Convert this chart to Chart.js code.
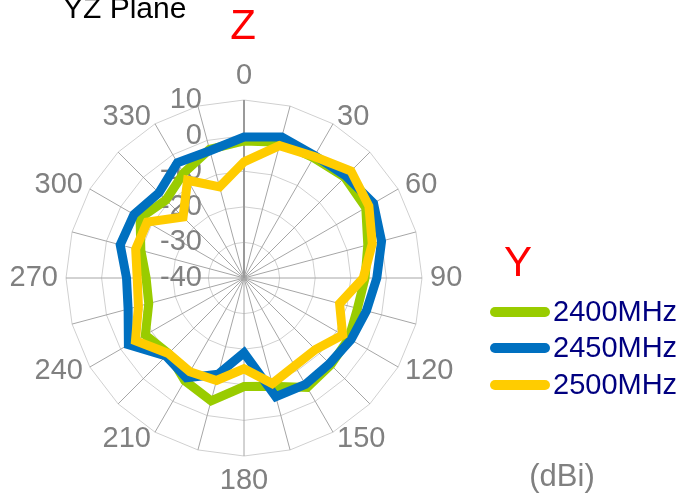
<!DOCTYPE html>
<html>
<head>
<meta charset="utf-8">
<script src="https://cdn.jsdelivr.net/npm/chart.js@4.4.1/dist/chart.umd.min.js"></script>
<style>
html,body{margin:0;padding:0;background:#fff;}
#wrap{position:relative;width:681px;height:495px;overflow:hidden;font-family:"Liberation Sans",Arial,sans-serif;}
#wrap canvas{position:absolute;left:0;top:0;}
.t{position:absolute;white-space:nowrap;line-height:1;}
.sw{position:absolute;left:490px;width:60px;height:10px;border-radius:5px;}
.lg{position:absolute;left:553px;font-size:29px;line-height:1;color:#000080;white-space:nowrap;}
</style>
</head>
<body>
<div id="wrap">
  <canvas id="yz" width="681" height="495"></canvas>
  <div class="t" style="left:63px;top:-7px;font-size:30px;color:#000;">YZ Plane</div>
  <div class="t" style="left:193px;top:4px;width:100px;text-align:center;font-size:42px;color:#ff0000;">Z</div>
  <div class="t" style="left:468px;top:241px;width:100px;text-align:center;font-size:42px;color:#ff0000;">Y</div>
  <div class="t" style="left:512px;top:460px;width:100px;text-align:center;font-size:31px;color:#808080;">(dBi)</div>
  <div id="legend"></div>
</div>
<script>
// ===== data =====
const angles = [0,15,30,45,60,75,90,105,120,135,150,165,180,195,210,225,240,255,270,285,300,315,330,345];
const seriesNames = ['2400MHz','2450MHz','2500MHz'];
const seriesColors = ['#99cc00','#0070c0','#ffcc00'];
const gain2400 = [-1.5,-0.5,-1,0,-0.5,-4,-6,-7,-6,-5.5,-4.5,-8.5,-9.5,-4.3,-6.7,-10,-8,-12.3,-12.5,-10,-6.3,-9,-6,-2.6];
const gain2450 = [-0.4,1,-0.3,0.5,2,0,-2.7,-4.4,-5.3,-6,-5.5,-5.5,-19,-12,-7.6,-9,-2.5,-6.3,-7,-4,-4.3,-6.2,-2.6,-3];
const gain2500 = [-7.4,-1.5,-0.6,2.5,0.5,-2.7,-6.5,-12.2,-8,-11.6,-11.5,-9.3,-14.5,-10.2,-9.6,-10,-4.8,-9.3,-10,-8.5,-8.6,-15.8,-8.3,-13.5];
const rMin = -40, rMax = 10, rStep = 10;

const gray = '#808080', font = '"Liberation Sans", Arial, sans-serif';

// 눈금/각도 라벨 (Excel 위치 흉내)
const axisText = {
  id: 'axisText',
  beforeDatasetsDraw(chart){
    const s = chart.scales.r, ctx = chart.ctx;
    ctx.save();
    ctx.fillStyle = gray; ctx.font = '29px ' + font; ctx.textBaseline = 'middle';
    ctx.textAlign = 'right';
    s.ticks.forEach(t => { ctx.fillText(t.label, s.xCenter - 42, s.yCenter - s.getDistanceFromCenterForValue(t.value)); });
    const outer = s.drawingArea + 8;
    chart.data.labels.forEach((lab, i) => {
      if (!lab) return;
      const p = s.getPointPosition(i, outer), a = angles[i];
      ctx.textAlign = (a === 0 || a === 180) ? 'center' : (a < 180 ? 'left' : 'right');
      ctx.fillText(lab, p.x, p.y + (a === 0 ? -16.5 : a === 180 ? 16.5 : 0));
    });
    ctx.restore();
  }
};

const gains = [gain2400, gain2450, gain2500];
new Chart(document.getElementById('yz'), {
  type: 'radar',
  data: {
    labels: angles.map(a => a % 30 === 0 ? String(a) : ''),
    datasets: gains.map((g, i) => ({
      label: seriesNames[i], data: g, borderColor: seriesColors[i], backgroundColor: seriesColors[i],
      borderWidth: 9, pointRadius: 0, fill: false, order: 3 - i
    }))
  },
  options: {
    responsive: false, animation: false,
    layout: { padding: { left: 66, top: 100, right: 259, bottom: 39 } },
    plugins: { legend: { display: false }, tooltip: { enabled: false } },
    scales: {
      r: {
        min: rMin, max: rMax,
        ticks: { stepSize: rStep, display: false },
        grid: { circular: false, color: '#d0d0d0', lineWidth: 1 },
        angleLines: { color: c => c.index === 0 ? '#9a9a9a' : '#a6a6a6', lineWidth: c => c.index === 0 ? 2 : 1 },
        pointLabels: { display: false }
      }
    }
  },
  plugins: [axisText]
});

// 범례
const lg = document.getElementById('legend');
seriesNames.forEach((n, i) => {
  lg.innerHTML += `<div class="sw" style="top:${306.7 + i * 36.7}px;background:${seriesColors[i]}"></div>` +
                  `<div class="lg" style="top:${296.5 + i * 36.7}px">${n}</div>`;
});
</script>
</body>
</html>
